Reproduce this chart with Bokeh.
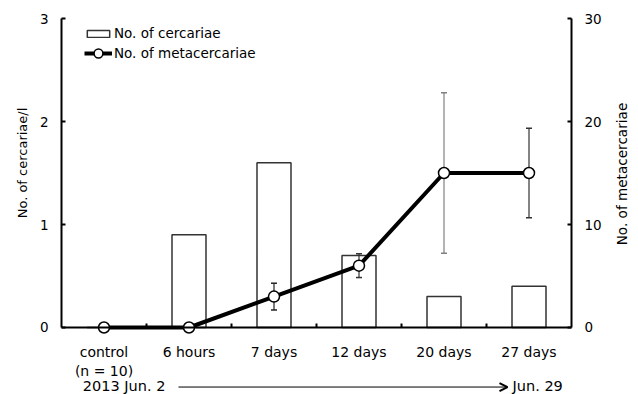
import math
from bokeh.plotting import figure
from bokeh.models import (Range1d, LinearAxis, FixedTicker, Label, Arrow, OpenHead,
                          Legend, LegendItem)
from bokeh.embed import file_html
from bokeh.resources import INLINE

# ---- data ----
categories = ["control\n(n = 10)", "6 hours", "7 days", "12 days", "20 days", "27 days"]
cercariae = [0, 0.9, 1.6, 0.7, 0.3, 0.4]            # No. of cercariae/l (left axis)
metacercariae = [0, 0, 3, 6, 15, 15]                # No. of metacercariae (right axis)
meta_err = [0, 0, 1.3, 1.15, 7.8, 4.35]
err_colors = ["#000000", "#000000", "#222222", "#333333", "#808080", "#333333"]
left_ticks = [0, 1, 2, 3]
right_ticks = [0, 10, 20, 30]
left_title = "No. of cercariae/l"
right_title = "No. of metacercariae"
date_start = "2013 Jun. 2"
date_end = "Jun. 29"

FONT = "DejaVu Sans"

n = len(categories)
xs = [i + 0.5 for i in range(n)]
bounds_x = [i for i in range(1, n)]

# The frame covers the whole canvas; the axes are placed at fixed data locations
# so that titles, category labels and the date arrow are not clipped.
p = figure(width=638, height=394, output_backend="svg", toolbar_location=None,
           x_range=Range1d(-0.7176, 6.7882), y_range=Range1d(-0.6505, 3.1748),
           min_border_left=0, min_border_right=0, min_border_top=0, min_border_bottom=0)
p.extra_y_ranges = {"meta": Range1d(-6.505, 31.748)}
p.outline_line_color = None
p.grid.visible = False

# x axis (drawn at y = 0)
xa = p.xaxis[0]
xa.ticker = FixedTicker(ticks=xs, minor_ticks=bounds_x)
xa.major_label_overrides = {x: c for x, c in zip(xs, categories)}
xa.fixed_location = 0
xa.bounds = (0, n)
xa.major_tick_line_color = None
xa.minor_tick_in = 4
xa.minor_tick_out = 0
xa.minor_tick_line_width = 2
xa.axis_line_width = 2
xa.major_label_standoff = 11
xa.major_label_text_font = FONT
xa.major_label_text_font_size = "14px"
xa.major_label_text_color = "black"
xa.major_label_text_line_height = 1.15

# left axis
ya = p.yaxis[0]
ya.ticker = FixedTicker(ticks=left_ticks)
ya.fixed_location = 0
ya.bounds = (0, 3)
ya.major_tick_in = 4
ya.major_tick_out = 0
ya.major_tick_line_width = 2
ya.minor_tick_line_color = None
ya.axis_line_width = 2
ya.major_label_standoff = 13
ya.major_label_text_font = FONT
ya.major_label_text_font_size = "13.5px"
ya.major_label_text_color = "black"

# right axis
ra = LinearAxis(y_range_name="meta", ticker=FixedTicker(ticks=right_ticks))
ra.fixed_location = n
ra.bounds = (0, 30)
ra.major_tick_in = 4
ra.major_tick_out = 0
ra.major_tick_line_width = 2
ra.minor_tick_line_color = None
ra.axis_line_width = 2
ra.major_label_standoff = 13
ra.major_label_text_font = FONT
ra.major_label_text_font_size = "13.5px"
ra.major_label_text_color = "black"
p.add_layout(ra, "right")

# axis titles
p.add_layout(Label(x=-0.459, y=1.597, text=left_title, angle=math.pi / 2,
                   text_align="center", text_baseline="middle",
                   text_font=FONT, text_font_size="13px", text_color="black"))
p.add_layout(Label(x=6.596, y=1.49, text=right_title, angle=math.pi / 2,
                   text_align="center", text_baseline="middle",
                   text_font=FONT, text_font_size="13.6px", text_color="black"))

# bars
bars = p.vbar(x=xs, top=cercariae, width=0.4, fill_color="white",
              line_color="#333333", line_width=1.5)

# error bars
ex = [x for x, e in zip(xs, meta_err) if e > 0]
ev = [v for v, e in zip(metacercariae, meta_err) if e > 0]
ee = [e for e in meta_err if e > 0]
ec = [c for c, e in zip(err_colors, meta_err) if e > 0]
up = [v + e for v, e in zip(ev, ee)]
lo = [v - e for v, e in zip(ev, ee)]
p.segment(x0=ex, y0=lo, x1=ex, y1=up, line_color=ec, line_width=1.2, y_range_name="meta")
p.scatter(ex, up, marker="dash", size=6, line_color=ec, line_width=1.5, y_range_name="meta")
p.scatter(ex, lo, marker="dash", size=6, line_color=ec, line_width=1.5, y_range_name="meta")

# line + markers
ln = p.line(xs, metacercariae, line_width=4, line_color="black", y_range_name="meta")
pts = p.scatter(xs, metacercariae, size=11, fill_color="white", line_color="black",
                line_width=1.5, y_range_name="meta")

# legends
leg1 = Legend(items=[LegendItem(label="No. of cercariae", renderers=[bars])],
              location=(84, 353), glyph_width=28, glyph_height=9, label_height=15,
              label_standoff=2, padding=0, margin=0, spacing=0,
              border_line_color=None, background_fill_alpha=0,
              label_text_font=FONT, label_text_font_size="13.5px", label_text_color="black")
leg2 = Legend(items=[LegendItem(label="No. of metacercariae", renderers=[ln, pts])],
              location=(84, 330), glyph_width=28, glyph_height=22, label_height=22,
              label_standoff=2, padding=0, margin=0, spacing=0,
              border_line_color=None, background_fill_alpha=0,
              label_text_font=FONT, label_text_font_size="13.5px", label_text_color="black")
p.add_layout(leg1)
p.add_layout(leg2)

# date annotation
p.add_layout(Label(x=0.25, y=-0.566, text=date_start, text_font=FONT, text_font_size="14.5px",
                   text_baseline="alphabetic", text_color="black"))
p.add_layout(Arrow(x_start=1.376, y_start=-0.578, x_end=5.247, y_end=-0.578,
                   line_width=1, line_color="black",
                   end=OpenHead(size=8, line_width=2, line_color="black")))
p.add_layout(Label(x=5.306, y=-0.566, text=date_end, text_font=FONT, text_font_size="14.5px",
                   text_baseline="alphabetic", text_color="black"))

open("out.html", "w").write(file_html(p, INLINE))
